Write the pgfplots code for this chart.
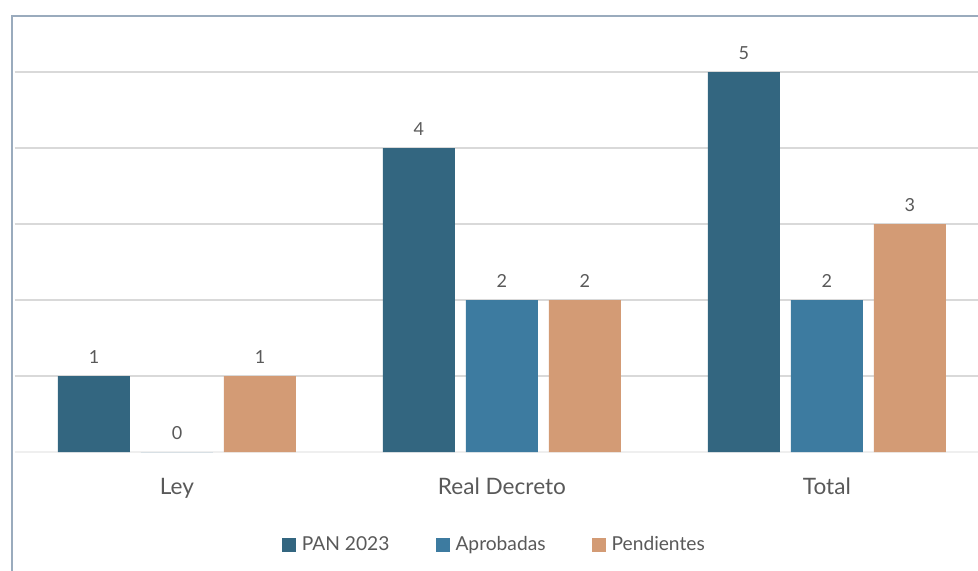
\documentclass[border=0pt]{standalone}
\usepackage{pgfplots}
\pgfplotsset{compat=1.18}
\usepackage{fontspec}
\setmainfont{Lato}
\definecolor{cPAN}{HTML}{336680}
\definecolor{cApr}{HTML}{3D7BA0}
\definecolor{cPen}{HTML}{D39B75}
\definecolor{cGrid}{HTML}{D9D9D9}
\definecolor{cText}{HTML}{595959}
\definecolor{cFrame}{HTML}{9AABBD}
\begin{document}
\begin{tikzpicture}
\useasboundingbox (0,0) rectangle (489pt,285pt);
\begin{axis}[
  at={(7.25pt,59pt)}, anchor=south west,
  scale only axis,
  width=481.75pt, height=209pt,
  xmin=-0.5, xmax=2.465,
  ymin=0, ymax=5.5,
  ybar=5.5pt, bar width=36pt,
  axis line style={draw=none},
  xtick={0,1,2},
  xticklabels={Ley,Real Decreto,Total},
  major tick length=0pt,
  xticklabel style={font=\fontsize{11.3}{13}\selectfont, text=cText, yshift=-9.5pt},
  ytick={1,2,3,4,5},
  yticklabels={},
  ymajorgrids,
  grid style={draw=cGrid, line width=0.75pt},
  extra y ticks={0},
  extra y tick labels={},
  extra y tick style={grid style={draw=cGrid!110!black, line width=1pt}},
  /pgf/number format/assume math mode=true,
  nodes near coords,
  every node near coord/.append style={font=\fontsize{9}{11}\selectfont, text=cText, yshift=2.5pt},
  legend columns=-1,
  legend style={at={(0.498,-0.2225)}, anchor=center, draw=none, fill=none,
    font=\fontsize{9.6}{11}\selectfont, text=cText,
    nodes={inner sep=1pt},
    /tikz/every odd column/.append style={column sep=2pt},
    /tikz/every even column/.append style={column sep=22pt}},
  legend image code/.code={\fill[#1] (0pt,-3.5pt) rectangle (7pt,3.5pt);},
]
\addplot[fill=cPAN, draw=none] coordinates {(0,1) (1,4) (2,5)};
\addplot[fill=cApr, draw=none] coordinates {(0,0) (1,2) (2,2)};
\addplot[fill=cPen, draw=none] coordinates {(0,1) (1,2) (2,3)};
\legend{PAN 2023,Aprobadas,Pendientes}
\end{axis}
\draw[cFrame, line width=0.8pt] (6pt,-2pt) -- (6pt,277pt) -- (492pt,277pt);
\end{tikzpicture}
\end{document}
